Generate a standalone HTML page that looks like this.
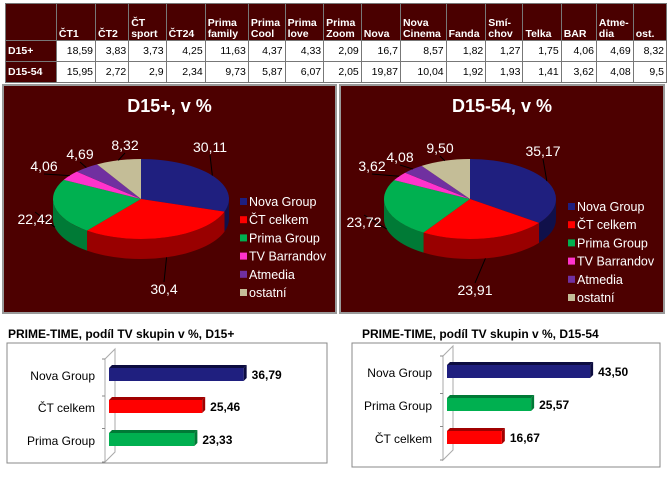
<!DOCTYPE html>
<html><head><meta charset="utf-8"><style>
body{margin:0;background:#fff;width:667px;height:478px;overflow:hidden;font-family:"Liberation Sans",sans-serif}
table{position:absolute;left:5px;top:3px;border-collapse:collapse;font-family:"Liberation Sans",sans-serif;font-size:10.5px}
td,th{border:1px solid #777;padding:0 2px;height:20px}
th{background:#4a0000;color:#fff;text-align:left;vertical-align:bottom;font-weight:bold;line-height:11px;height:36px}
td.h{background:#4a0000;color:#fff;font-weight:bold;text-align:left}
td{text-align:right;color:#000}
</style></head><body>
<table>
<tr><th style="width:48px"></th><th style="width:35px">ČT1</th><th style="width:29px">ČT2</th><th style="width:33px">ČT<br>sport</th><th style="width:35px">ČT24</th><th style="width:39px">Prima family</th><th style="width:32px">Prima Cool</th><th style="width:34px">Prima love</th><th style="width:33px">Prima Zoom</th><th style="width:35px">Nova</th><th style="width:41px">Nova Cinema</th><th style="width:35px">Fanda</th><th style="width:33px">Smí-<br>chov</th><th style="width:34px">Telka</th><th style="width:31px">BAR</th><th style="width:32px">Atme-<br>dia</th><th style="width:29px">ost.</th></tr>
<tr><td class="h">D15+</td><td>18,59</td><td>3,83</td><td>3,73</td><td>4,25</td><td>11,63</td><td>4,37</td><td>4,33</td><td>2,09</td><td>16,7</td><td>8,57</td><td>1,82</td><td>1,27</td><td>1,75</td><td>4,06</td><td>4,69</td><td>8,32</td></tr>
<tr><td class="h">D15-54</td><td>15,95</td><td>2,72</td><td>2,9</td><td>2,34</td><td>9,73</td><td>5,87</td><td>6,07</td><td>2,05</td><td>19,87</td><td>10,04</td><td>1,92</td><td>1,93</td><td>1,41</td><td>3,62</td><td>4,08</td><td>9,5</td></tr>
</table>
<svg id="s" width="667" height="478" style="position:absolute;left:0;top:0" xmlns="http://www.w3.org/2000/svg" font-family="Liberation Sans, sans-serif"></svg>
<script>
const groups=["Nova Group","ČT celkem","Prima Group","TV Barrandov","Atmedia","ostatní"];
const pieD15=[30.11,30.4,22.42,4.06,4.69,8.32];
const pieD15Labels=["30,11","30,4","22,42","4,06","4,69","8,32"];
const pieD1554=[35.17,23.91,23.72,3.62,4.08,9.50];
const pieD1554Labels=["35,17","23,91","23,72","3,62","4,08","9,50"];
const barCats1=["Nova Group","ČT celkem","Prima Group"];
const barVals1=[36.79,25.46,23.33];
const barCats2=["Nova Group","Prima Group","ČT celkem"];
const barVals2=[43.50,25.57,16.67];

const top_=["#1f1f7f","#ff0000","#00b050","#ff33cc","#7030a0","#c4bd97"];
const side=["#10104a","#990000","#007a36","#a01f80","#4a1f6a","#8a8468"];
const barTop={"Nova Group":"#1f1f7f","ČT celkem":"#ff0000","Prima Group":"#00b050"};
const barSide={"Nova Group":"#0c0c40","ČT celkem":"#a00000","Prima Group":"#007a36"};
const S=document.getElementById('s');const NS="http://www.w3.org/2000/svg";
function mk(t,a,p){const e=document.createElementNS(NS,t);for(const k in a)e.setAttribute(k,a[k]);(p||S).appendChild(e);return e;}
function txt(x,y,s,a,p){const e=mk('text',Object.assign({x:x,y:y},a),p);e.textContent=s;return e;}

function pie(px,pw,title,vals,labels,cx,cy,rx,ry,dep,lblPos,legX,legY){
  const g=mk('g',{});
  
  
  const bg=mk('rect',{x:px,y:85,width:pw,height:228,fill:'#4d0000',stroke:'#999','stroke-width':2},g);
  
  
  const t=txt(px+pw/2,112,title,{'text-anchor':'middle',fill:'#fff','font-size':18,'font-weight':'bold'},g);
  
  
  const tot=vals.reduce((a,b)=>a+b,0);
  const P=a=>[cx+rx*Math.cos(a),cy+ry*Math.sin(a)];
  let a=-Math.PI/2;const ang=[];
  vals.forEach(v=>{const b=a+v/tot*2*Math.PI;ang.push([a,b]);a=b;});
  ang.forEach(([a1,b1],i)=>{
    for(const off of [0,2*Math.PI]){
      const s1=Math.max(a1,off+0),e1=Math.min(b1,off+Math.PI);
      if(e1>s1){
        const p1=P(s1),p2=P(e1);
        const d=`M${p1[0]},${p1[1]} A${rx},${ry} 0 0 1 ${p2[0]},${p2[1]} L${p2[0]},${p2[1]+dep} A${rx},${ry} 0 0 0 ${p1[0]},${p1[1]+dep} Z`;
        const e=mk('path',{d:d,fill:side[i]},g);
        
        
      }
    }
  });
  ang.forEach(([a1,b1],i)=>{
    const p1=P(a1),p2=P(b1);const large=(b1-a1)>Math.PI?1:0;
    const e=mk('path',{d:`M${cx},${cy} L${p1[0]},${p1[1]} A${rx},${ry} 0 ${large} 1 ${p2[0]},${p2[1]} Z`,fill:top_[i]},g);
    
    
    const m=(a1+b1)/2;const pm=P(m);const lp=lblPos[i];
    mk('line',{x1:pm[0],y1:pm[1]+(Math.sin(m)>0?dep:0),x2:lp[0],y2:lp[1]+(Math.sin(m)>0?-12:3),stroke:'#000','stroke-width':1},g);
    const l=txt(lp[0],lp[1],labels[i],{'text-anchor':'middle',fill:'#fff','font-size':14},g);
    
    
  });
  groups.forEach((n,i)=>{
    const r=mk('rect',{x:legX,y:legY+i*18.2-8,width:7,height:7,fill:top_[i]},g);
    
    
    const l=txt(legX+9,legY+i*18.2,n,{fill:'#fff','font-size':12.5},g);
    
    
  });
}
pie(3,333,"D15+, v %",pieD15,pieD15Labels,141,199,88,40,20,[[210,152],[164,294],[35,224],[44,171],[80,159],[125,150]],240,206);
pie(340,324,"D15-54, v %",pieD1554,pieD1554Labels,470,199,86,40,20,[[543,156],[475,295],[364,227],[372,171],[400,162],[440,153]],568,211);

function bars(title,tx,box,cats,vals,x0,ppu,yc,lblX){
  const g=mk('g',{});
  
  
  const t=txt(tx,338,title,{'font-size':12,'font-weight':'bold',fill:'#000'},g);
  
  
  mk('rect',{x:box[0],y:box[1],width:box[2],height:box[3],fill:'#fff',stroke:'#888','stroke-width':1},g);
  const wx=x0-4,wt=yc[0]-26,wb=yc[2]+22;
  mk('path',{d:`M${wx},${wt+10} L${wx+10},${wt} L${wx+10},${wb-10} L${wx},${wb} Z`,fill:'none',stroke:'#aaa','stroke-width':1},g);
  [wt+10,(yc[0]+yc[1])/2+5,(yc[1]+yc[2])/2+5,wb].forEach(y=>mk('line',{x1:wx-3,y1:y,x2:wx,y2:y,stroke:'#888'},g));
  cats.forEach((c,i)=>{
    const w=vals[i]*ppu,y=yc[i];
    mk('path',{d:`M${x0},${y-7} L${x0+3},${y-10} L${x0+w+3},${y-10} L${x0+w},${y-7} Z`,fill:barSide[c]},g);
    mk('path',{d:`M${x0+w},${y-7} L${x0+w+3},${y-10} L${x0+w+3},${y+3} L${x0+w},${y+6} Z`,fill:barSide[c]},g);
    const r=mk('rect',{x:x0,y:y-7,width:w,height:13,fill:barTop[c]},g);
    
    
    const v=txt(x0+w+8,y+4,vals[i].toFixed(2).replace('.',','),{'font-size':12,'font-weight':'bold',fill:'#000'},g);
    
    
    const l=txt(lblX,y+5,c,{'font-size':12,'text-anchor':'end',fill:'#000'},g);
    
    
  });
}
bars("PRIME-TIME, podíl TV skupin v %, D15+",8,[7,343,320,120],barCats1,barVals1,109,3.66,[375,407,440],95);
bars("PRIME-TIME, podíl TV skupin v %, D15-54",362,[352,343,308,124],barCats2,barVals2,447,3.29,[372,405,438],432);
</script>
</body></html>
